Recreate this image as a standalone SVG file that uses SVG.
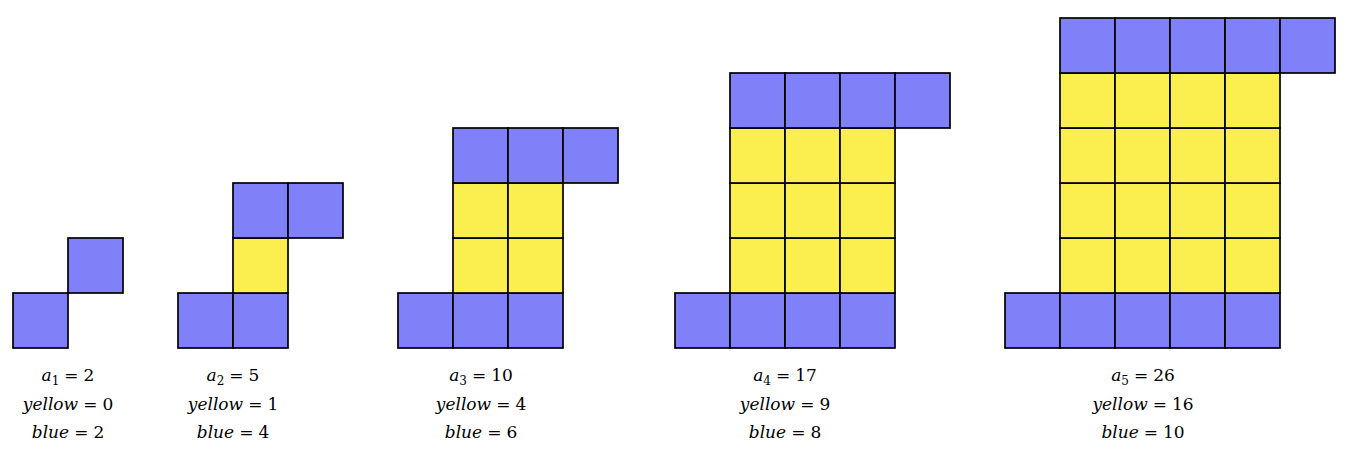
<svg xmlns="http://www.w3.org/2000/svg" width="1353" height="451" viewBox="0 0 1353 451">
<style>
.b{fill:#8080f8;stroke:#000;stroke-width:1.7}
.y{fill:#fbef50;stroke:#000;stroke-width:1.7}
text{font-family:'DejaVu Serif',serif;font-size:17px;text-anchor:middle;fill:#000}
.i{font-style:italic}
.s{font-size:12px}
</style>
<defs>
<rect id="B" class="b" width="55" height="55"/>
<rect id="Y" class="y" width="55" height="55"/>
</defs>
<rect width="1353" height="451" fill="#fff"/>
<g id="fig1">
<use href="#B" x="13" y="293"/><use href="#B" x="68" y="238"/>
<text x="68" y="381"><tspan class="i">a</tspan><tspan class="s" dy="4">1</tspan><tspan dy="-4" dx="5">=</tspan><tspan dx="5">2</tspan></text>
<text x="68" y="410"><tspan class="i">yellow</tspan><tspan dx="5">=</tspan><tspan dx="5">0</tspan></text>
<text x="68" y="438"><tspan class="i">blue</tspan><tspan dx="5">=</tspan><tspan dx="5">2</tspan></text>
</g>
<g id="fig2">
<use href="#B" x="178" y="293"/><use href="#B" x="233" y="293"/>
<use href="#Y" x="233" y="238"/>
<use href="#B" x="233" y="183"/><use href="#B" x="288" y="183"/>
<text x="233" y="381"><tspan class="i">a</tspan><tspan class="s" dy="4">2</tspan><tspan dy="-4" dx="5">=</tspan><tspan dx="5">5</tspan></text>
<text x="233" y="410"><tspan class="i">yellow</tspan><tspan dx="5">=</tspan><tspan dx="5">1</tspan></text>
<text x="233" y="438"><tspan class="i">blue</tspan><tspan dx="5">=</tspan><tspan dx="5">4</tspan></text>
</g>
<g id="fig3">
<use href="#B" x="398" y="293"/><use href="#B" x="453" y="293"/><use href="#B" x="508" y="293"/>
<use href="#Y" x="453" y="238"/><use href="#Y" x="508" y="238"/>
<use href="#Y" x="453" y="183"/><use href="#Y" x="508" y="183"/>
<use href="#B" x="453" y="128"/><use href="#B" x="508" y="128"/><use href="#B" x="563" y="128"/>
<text x="481" y="381"><tspan class="i">a</tspan><tspan class="s" dy="4">3</tspan><tspan dy="-4" dx="5">=</tspan><tspan dx="5">10</tspan></text>
<text x="481" y="410"><tspan class="i">yellow</tspan><tspan dx="5">=</tspan><tspan dx="5">4</tspan></text>
<text x="481" y="438"><tspan class="i">blue</tspan><tspan dx="5">=</tspan><tspan dx="5">6</tspan></text>
</g>
<g id="fig4">
<use href="#B" x="675" y="293"/><use href="#B" x="730" y="293"/><use href="#B" x="785" y="293"/><use href="#B" x="840" y="293"/>
<use href="#Y" x="730" y="238"/><use href="#Y" x="785" y="238"/><use href="#Y" x="840" y="238"/>
<use href="#Y" x="730" y="183"/><use href="#Y" x="785" y="183"/><use href="#Y" x="840" y="183"/>
<use href="#Y" x="730" y="128"/><use href="#Y" x="785" y="128"/><use href="#Y" x="840" y="128"/>
<use href="#B" x="730" y="73"/><use href="#B" x="785" y="73"/><use href="#B" x="840" y="73"/><use href="#B" x="895" y="73"/>
<text x="785" y="381"><tspan class="i">a</tspan><tspan class="s" dy="4">4</tspan><tspan dy="-4" dx="5">=</tspan><tspan dx="5">17</tspan></text>
<text x="785" y="410"><tspan class="i">yellow</tspan><tspan dx="5">=</tspan><tspan dx="5">9</tspan></text>
<text x="785" y="438"><tspan class="i">blue</tspan><tspan dx="5">=</tspan><tspan dx="5">8</tspan></text>
</g>
<g id="fig5">
<use href="#B" x="1005" y="293"/><use href="#B" x="1060" y="293"/><use href="#B" x="1115" y="293"/><use href="#B" x="1170" y="293"/><use href="#B" x="1225" y="293"/>
<use href="#Y" x="1060" y="238"/><use href="#Y" x="1115" y="238"/><use href="#Y" x="1170" y="238"/><use href="#Y" x="1225" y="238"/>
<use href="#Y" x="1060" y="183"/><use href="#Y" x="1115" y="183"/><use href="#Y" x="1170" y="183"/><use href="#Y" x="1225" y="183"/>
<use href="#Y" x="1060" y="128"/><use href="#Y" x="1115" y="128"/><use href="#Y" x="1170" y="128"/><use href="#Y" x="1225" y="128"/>
<use href="#Y" x="1060" y="73"/><use href="#Y" x="1115" y="73"/><use href="#Y" x="1170" y="73"/><use href="#Y" x="1225" y="73"/>
<use href="#B" x="1060" y="18"/><use href="#B" x="1115" y="18"/><use href="#B" x="1170" y="18"/><use href="#B" x="1225" y="18"/><use href="#B" x="1280" y="18"/>
<text x="1143" y="381"><tspan class="i">a</tspan><tspan class="s" dy="4">5</tspan><tspan dy="-4" dx="5">=</tspan><tspan dx="5">26</tspan></text>
<text x="1143" y="410"><tspan class="i">yellow</tspan><tspan dx="5">=</tspan><tspan dx="5">16</tspan></text>
<text x="1143" y="438"><tspan class="i">blue</tspan><tspan dx="5">=</tspan><tspan dx="5">10</tspan></text>
</g>
</svg>
